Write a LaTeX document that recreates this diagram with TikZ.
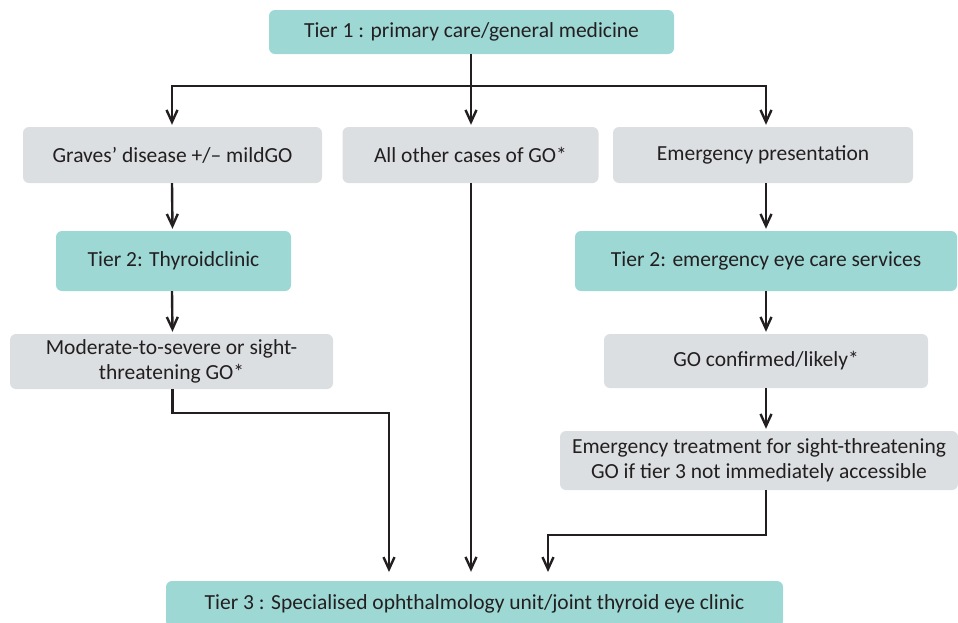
\documentclass[tikz,border=0pt]{standalone}
\usepackage{fontspec}
\setmainfont{Carlito}
\usepackage{tikz}
\usetikzlibrary{arrows.meta,positioning,calc}
\usepackage{xcolor}
\definecolor{tealbox}{HTML}{9ED8D5}
\definecolor{greybox}{HTML}{DBDFE1}
\definecolor{inkline}{HTML}{231F20}

\begin{document}
\begin{tikzpicture}[
    x=1pt, y=-1pt,
    >={Straight Barb[length=12pt,width=11pt]},
    tierbox/.style={rounded corners=6pt, fill=tealbox, inner sep=0pt,
                    text=inkline, font=\fontsize{21.5}{25}\selectfont, align=center},
    stepbox/.style={rounded corners=6pt, fill=greybox, inner sep=0pt,
                    text=inkline, font=\fontsize{21.5}{25}\selectfont, align=center},
    link/.style={->, line width=2.4pt, draw=inkline, shorten >=2pt},
    trunk/.style={line width=2.4pt, draw=inkline}
  ]
  \useasboundingbox (0,0) rectangle (958,622);

  %% Tier 1 and first split
  \node (tier1) [tierbox, minimum width=405pt, minimum height=44pt] at (471.5,32)
        {Tier 1 : primary care/general medicine};
  \coordinate (split) at (471,86);

  \node (graves) [stepbox, minimum width=299pt, minimum height=56pt] at (172.5,155)
        {Graves’ disease +/-- mildGO};
  \node (others) [stepbox, minimum width=256pt, minimum height=56pt] at (470.5,155)
        {All other cases of GO*};
  \node (emerg)  [stepbox, minimum width=300pt, minimum height=56pt] at (763,155)
        {Emergency presentation};

  \draw[trunk] (split |- tier1.south) -- (split);
  \draw[link] (split) -| ([xshift=-0.5pt]graves.north);
  \draw[link] (split) -| ([xshift=3pt]emerg.north);
  \draw[link] (split) -- (split |- others.north);

  %% Left branch
  \node (thyroid) [tierbox, minimum width=235pt, minimum height=60pt] at (173.5,261)
        {Tier 2: Thyroidclinic};
  \node (modsev) [stepbox, minimum width=323pt, minimum height=55pt] at (171.5,361.5)
        {Moderate-to-severe or sight-\\threatening GO*};
  \draw[link] ([xshift=-0.5pt]graves.south) -- (thyroid.north -| graves.south);
  \draw[link] ([xshift=-1.5pt]thyroid.south) -- (modsev.north -| graves.south);

  %% Right branch
  \node (eyecare) [tierbox, minimum width=382pt, minimum height=60pt] at (766,261)
        {Tier 2: emergency eye care services};
  \node (gocon) [stepbox, minimum width=324pt, minimum height=54pt] at (766,361)
        {GO confirmed/likely*};
  \node (emtreat) [stepbox, minimum width=398pt, minimum height=59pt] at (759,460.5)
        {Emergency treatment for sight-threatening\\ GO if tier 3 not immediately accessible};
  \draw[link] ([xshift=3pt]emerg.south) -- (eyecare.north);
  \draw[link] (eyecare.south) -- (gocon.north);
  \draw[link] (gocon.south) -- (gocon.south |- emtreat.north);

  %% Tier 3
  \node (tier3) [tierbox, minimum width=617pt, minimum height=46pt] at (474.5,604)
        {Tier 3 : Specialised ophthalmology unit/joint thyroid eye clinic};
  \coordinate (inL) at (389,581);
  \coordinate (inR) at (548,581);
  \draw[link, shorten >=9pt] (modsev.south -| graves.south) -- ++(0,24) -| (inL);
  \draw[link, shorten >=9pt] (split |- others.south) -- (split |- tier3.north);
  \draw[link, shorten >=9pt] (gocon.south |- emtreat.south) -- ++(0,45) -| (inR);

\end{tikzpicture}
\end{document}
